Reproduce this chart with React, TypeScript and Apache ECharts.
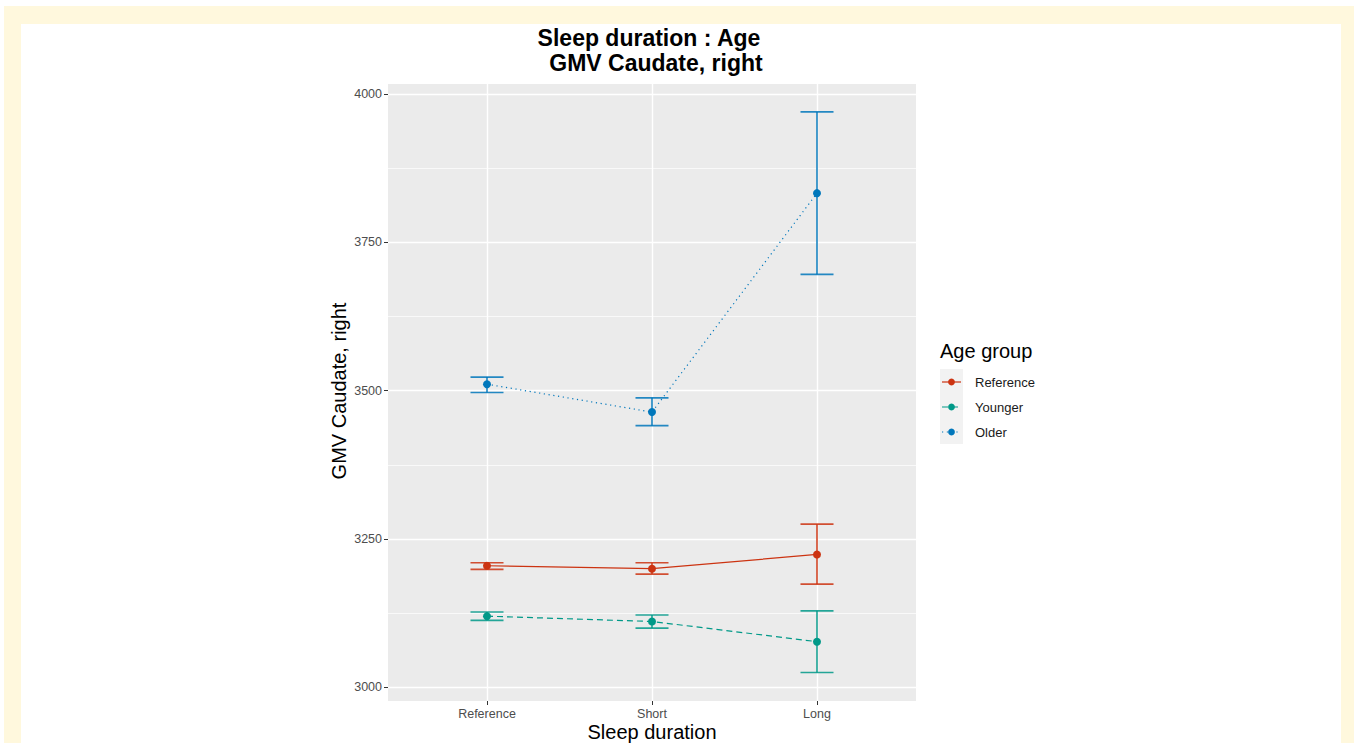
import React, { useEffect, useRef } from "react";
import * as echarts from "echarts";

// Sleep duration categories on the x axis
const categories = ["Reference", "Short", "Long"];
const yTicks = [3000, 3250, 3500, 3750, 4000];
const yMinor = [3125, 3375, 3625, 3875];

// Age group estimates with their confidence limits
const refMean = [3205, 3200, 3224];
const refLow = [3199, 3191, 3174];
const refHigh = [3210, 3210, 3275];

const youngMean = [3120, 3111, 3077];
const youngLow = [3113, 3100, 3025];
const youngHigh = [3127, 3122, 3129];

const oldMean = [3511, 3464, 3833];
const oldLow = [3497, 3441, 3696];
const oldHigh = [3523, 3488, 3970];

const groups = [
  { name: "Reference", color: "#CC3311", mean: refMean, low: refLow, high: refHigh, dash: "solid" as any },
  { name: "Younger", color: "#009988", mean: youngMean, low: youngLow, high: youngHigh, dash: [6, 4] },
  { name: "Older", color: "#0077BB", mean: oldMean, low: oldLow, high: oldHigh, dash: [1.2, 3.6] },
];

const FONT = "Liberation Sans, Arial, Helvetica, sans-serif";

export default function App() {
  const ref = useRef<HTMLDivElement>(null);

  useEffect(() => {
    document.body.style.margin = "0";
    const chart = echarts.init(ref.current!, null, { renderer: "svg" });

    const errorSeries = groups.map((g) => ({
      type: "custom",
      name: g.name + " CI",
      z: 10,
      silent: true,
      data: g.mean.map((_, i) => [i + 1, g.low[i], g.high[i]]),
      renderItem: (params: any, api: any) => {
        const x = api.value(0);
        const lo = api.coord([x, api.value(1)]);
        const hi = api.coord([x, api.value(2)]);
        const half = api.size([0.2, 0])[0] / 2;
        const style = { stroke: g.color, lineWidth: 1.7, opacity: 0.85 };
        return {
          type: "group",
          children: [
            { type: "line", shape: { x1: lo[0], y1: lo[1], x2: hi[0], y2: hi[1] }, style },
            { type: "line", shape: { x1: lo[0] - half, y1: lo[1], x2: lo[0] + half, y2: lo[1] }, style },
            { type: "line", shape: { x1: hi[0] - half, y1: hi[1], x2: hi[0] + half, y2: hi[1] }, style },
          ],
        };
      },
    }));

    const lineSeries = groups.map((g) => ({
      type: "line",
      name: g.name,
      z: 12,
      data: g.mean.map((v, i) => [i + 1, v]),
      symbol: "circle",
      symbolSize: 8,
      itemStyle: { color: g.color },
      lineStyle: { color: g.color, width: 1.2, type: g.dash },
    }));

    const gridSeries = {
      type: "line",
      name: "grid",
      z: 1,
      silent: true,
      data: [] as any[],
      markLine: {
        z: 1,
        silent: true,
        symbol: ["none", "none"],
        label: { show: false },
        animation: false,
        data: [
          ...yMinor.map((v) => ({ yAxis: v, lineStyle: { color: "#ffffff", width: 0.7, type: "solid" } })),
          ...yTicks.map((v) => ({ yAxis: v, lineStyle: { color: "#ffffff", width: 1.4, type: "solid" } })),
          ...categories.map((_, i) => ({ xAxis: i + 1, lineStyle: { color: "#ffffff", width: 1.4, type: "solid" } })),
        ],
      },
    };

    const legendItems = groups.flatMap((g, i) => {
      const cy = 382 + i * 25;
      return [
        {
          type: "line",
          shape: { x1: 942, y1: cy, x2: 961, y2: cy },
          style: { stroke: g.color, lineWidth: 1.2, lineDash: g.dash === "solid" ? null : g.dash },
        },
        { type: "circle", shape: { cx: 951.5, cy, r: 3.4 }, style: { fill: g.color } },
        {
          type: "text",
          x: 975,
          y: cy,
          style: { text: g.name, font: `13px ${FONT}`, fill: "#1a1a1a", textVerticalAlign: "middle" },
        },
      ];
    });

    chart.setOption({
      animation: false,
      grid: {
        left: 388,
        top: 84,
        width: 528,
        height: 617,
        show: true,
        backgroundColor: "#EBEBEB",
        borderWidth: 0,
      },
      xAxis: {
        type: "value",
        min: 0.4,
        max: 3.6,
        axisLine: { show: false },
        splitLine: { show: false },
        axisTick: { show: true, customValues: [1, 2, 3], length: 4, lineStyle: { color: "#333333", width: 1 } },
        axisLabel: {
          customValues: [1, 2, 3],
          formatter: (v: number) => categories[Math.round(v) - 1] ?? "",
          color: "#4D4D4D",
          fontSize: 12.5,
          fontFamily: FONT,
          margin: 6,
        },
      },
      yAxis: {
        type: "value",
        min: 2977,
        max: 4017,
        axisLine: { show: false },
        splitLine: { show: false },
        axisTick: { show: true, customValues: yTicks, length: 4, lineStyle: { color: "#333333", width: 1 } },
        axisLabel: {
          customValues: yTicks,
          formatter: (v: number) => String(v),
          color: "#4D4D4D",
          fontSize: 12.5,
          fontFamily: FONT,
          margin: 6,
        },
      },
      graphic: [
        { type: "rect", z: -10, shape: { x: 0, y: 0, width: 1354, height: 743 }, style: { fill: "#ffffff" } },
        { type: "rect", z: -9, shape: { x: 4, y: 6, width: 1350, height: 737 }, style: { fill: "#FFF8DD" } },
        { type: "rect", z: -8, shape: { x: 21, y: 24, width: 1320, height: 719 }, style: { fill: "#ffffff" } },
        {
          type: "text",
          x: 649,
          y: 38,
          style: { text: "Sleep duration : Age", font: `bold 23px ${FONT}`, fill: "#000", textAlign: "center", textVerticalAlign: "middle" },
        },
        {
          type: "text",
          x: 656,
          y: 63,
          style: { text: "GMV Caudate, right", font: `bold 23px ${FONT}`, fill: "#000", textAlign: "center", textVerticalAlign: "middle" },
        },
        {
          type: "text",
          x: 339,
          y: 391,
          rotation: Math.PI / 2,
          style: { text: "GMV Caudate, right", font: `20px ${FONT}`, fill: "#000", textAlign: "center", textVerticalAlign: "middle" },
        },
        {
          type: "text",
          x: 652,
          y: 732,
          style: { text: "Sleep duration", font: `20px ${FONT}`, fill: "#000", textAlign: "center", textVerticalAlign: "middle" },
        },
        {
          type: "text",
          x: 940,
          y: 351,
          style: { text: "Age group", font: `20px ${FONT}`, fill: "#000", textVerticalAlign: "middle" },
        },
        { type: "rect", shape: { x: 940, y: 369, width: 23, height: 75 }, style: { fill: "#F2F2F2" } },
        ...legendItems,
      ],
      series: [gridSeries, ...errorSeries, ...lineSeries],
    });

    return () => chart.dispose();
  }, []);

  return <div ref={ref} style={{ width: 1354, height: 743 }} />;
}
